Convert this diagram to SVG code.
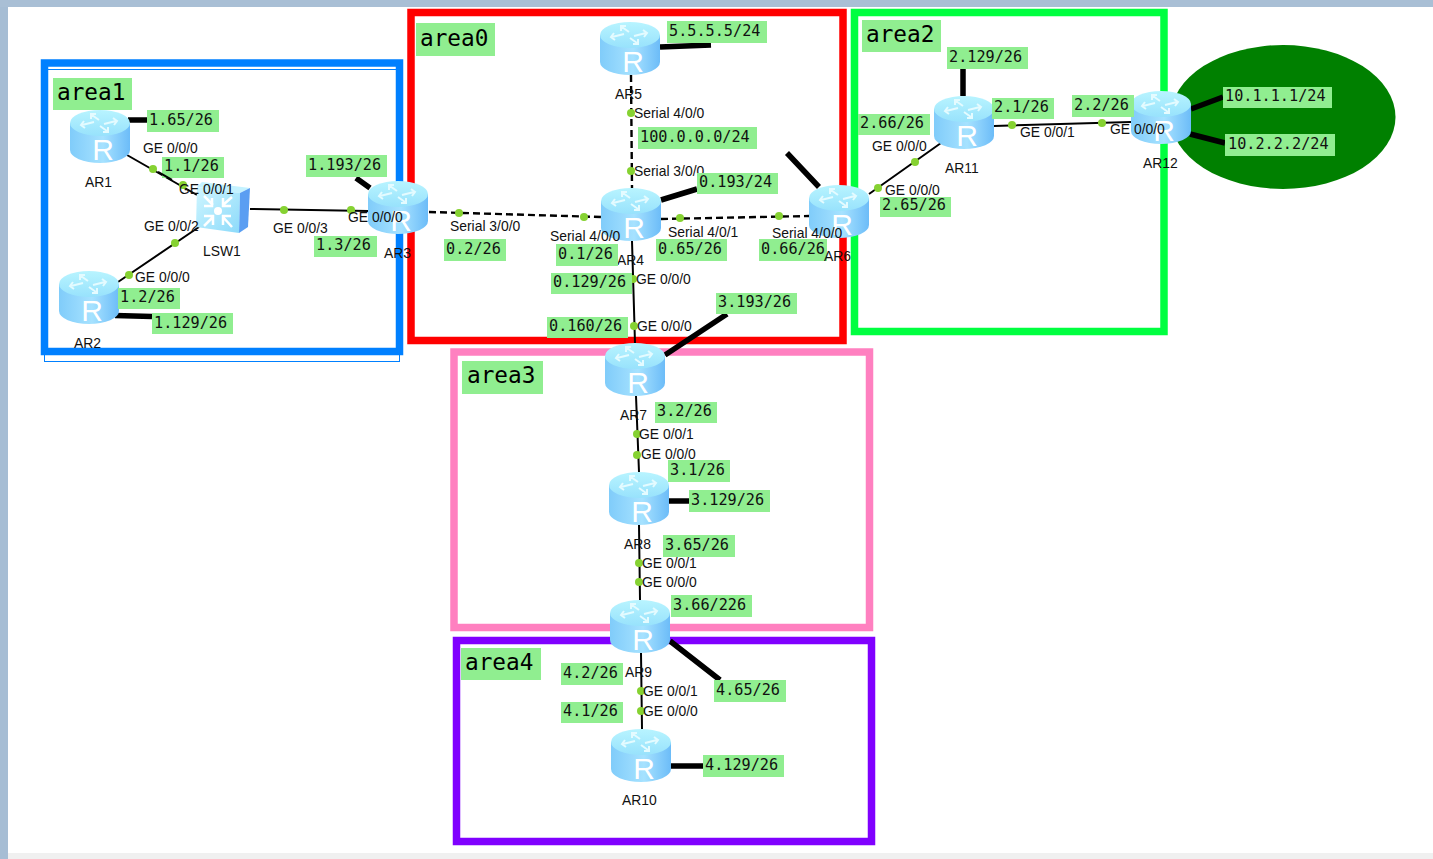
<svg xmlns="http://www.w3.org/2000/svg" xmlns:xlink="http://www.w3.org/1999/xlink" width="1433" height="859" viewBox="0 0 1433 859">
<style>
.area{fill:none;stroke-width:7.5}
.thin{stroke:#000;stroke-width:2;fill:none}
.ser{stroke:#000;stroke-width:2.4;stroke-dasharray:7 4;fill:none}
.thick{stroke:#000;stroke-width:5.5;fill:none}
.dot{fill:#86d232}
.bg{fill:#90ee90}
.ip{font:15.2px "DejaVu Sans Mono","Liberation Mono",monospace;fill:#111}
.an{font:22.7px "DejaVu Sans Mono","Liberation Mono",monospace;fill:#000}
.lb{font:13.9px "Liberation Sans",Arial,sans-serif;fill:#111}
.rl{font:30px "Liberation Sans",Arial,sans-serif;fill:#fff;text-anchor:middle}
</style>
<defs>
<linearGradient id="side" x1="0" x2="1" y1="0" y2="0"><stop offset="0" stop-color="#80ccfa"/><stop offset=".55" stop-color="#a6e2ff"/><stop offset="1" stop-color="#6cbcf8"/></linearGradient>
<linearGradient id="top" x1="0" x2="0" y1="0" y2="1"><stop offset="0" stop-color="#b8f4ff"/><stop offset="1" stop-color="#98e2fc"/></linearGradient>
<linearGradient id="face" x1="0" x2="1" y1="0" y2="1"><stop offset="0" stop-color="#d0f6ff"/><stop offset="1" stop-color="#8cdafa"/></linearGradient>
<g id="router">
<path d="M0,13V40A30,13 0 0 0 60,40V13Z" fill="url(#side)"/>
<ellipse cx="30" cy="13" rx="30" ry="13" fill="url(#top)"/>
<g fill="none" stroke="#e4fbff" stroke-width="2"><path d="M12,15L24,12M14,11L11,15L15,18M46,11L34,14M44,15L47,11L43,8M22,5L29,10M21,9L21,4L26,4M37,21L30,16M38,17L38,22L33,22"/></g>
<text class="rl" x="33" y="50">R</text>
</g>
</defs>
<rect width="1433" height="859" fill="#fff"/>
<rect x="0" y="0" width="8" height="859" fill="#a6bdd4"/>
<rect x="0" y="0" width="1433" height="7" fill="#a9bfd5"/>
<rect x="8" y="853" width="1425" height="6" fill="#f0f0f0"/>

<g id="areas">
<ellipse id="cloud" cx="1283" cy="117" rx="112.500" ry="72" fill="#008000"/>
<rect x="44.500" y="69.500" width="355" height="292" fill="none" stroke="#0080ff"/>
<rect class="area" x="44.500" y="63" width="355" height="288.500" stroke="#0080ff"/>
<rect class="area" x="411" y="12.500" width="432" height="328" stroke="#ff0000"/>
<rect class="area" x="854.500" y="12.500" width="309.500" height="319" stroke="#00ff40"/>
<rect class="area" x="454" y="352" width="415.500" height="275.500" stroke="#ff80c0"/>
<rect class="area" x="456.500" y="640.500" width="415" height="201" stroke="#8000ff"/>
</g>

<g id="connectors">
<path class="thin" d="M127,155L197,195M199,227L118,282M250,209L368,211M869,194L941,143M994,126L1131,122M632,241L635,343M636,396L639,472M639,525L640,600M641,653L642,729"/>
<path class="ser" d="M429,212L601,217M631,75L632,188M661,219L809,216"/>
<path class="thick" d="M128,120H147M356,178L370,188M115,315.500L152,316.500M660,47L711,45M661,200L697,189M787,153L819,187M963,69V96M1191,109L1223,97M1190,134L1225,143M665,355L727,314M669,501H689M670,641L720,680M671,766H703"/>
<g class="dots">
<circle class="dot" cx="153" cy="169" r="4"/><circle class="dot" cx="183" cy="185" r="4"/>
<circle class="dot" cx="175" cy="243" r="4"/><circle class="dot" cx="129" cy="275" r="4"/>
<circle class="dot" cx="284" cy="210" r="4"/><circle class="dot" cx="351" cy="210" r="4"/>
<circle class="dot" cx="459" cy="213" r="4"/><circle class="dot" cx="584" cy="217" r="4"/>
<circle class="dot" cx="631" cy="113" r="4"/><circle class="dot" cx="631" cy="171" r="4"/>
<circle class="dot" cx="680" cy="218" r="4"/><circle class="dot" cx="779" cy="216" r="4"/>
<circle class="dot" cx="878" cy="188" r="4"/><circle class="dot" cx="915" cy="162" r="4"/>
<circle class="dot" cx="1012" cy="125" r="4"/><circle class="dot" cx="1102" cy="123" r="4"/>
<circle class="dot" cx="633" cy="279" r="4"/><circle class="dot" cx="634" cy="326" r="4"/>
<circle class="dot" cx="637" cy="434" r="4"/><circle class="dot" cx="637" cy="455" r="4"/>
<circle class="dot" cx="639" cy="563" r="4"/><circle class="dot" cx="639" cy="582" r="4"/>
<circle class="dot" cx="641" cy="691" r="4"/><circle class="dot" cx="641" cy="711" r="4"/>
</g>
</g>

<g id="AR1"><use xlink:href="#router" href="#router" x="70" y="110"/><text class="lb" x="85" y="187">AR1</text><text class="lb" x="143" y="153">GE 0/0/0</text></g>
<g id="AR2"><use xlink:href="#router" href="#router" x="59" y="271"/><text class="lb" x="74" y="348">AR2</text><text class="lb" x="135" y="282">GE 0/0/0</text></g>
<g id="LSW1">
<path d="M197,187L202,182L250,188L240,193Z" fill="#c4f2ff"/>
<path d="M197,187L240,193L239,233L196,227Z" fill="url(#face)"/>
<path d="M240,193L250,188L248,227L239,233Z" fill="#5a9ef2"/>
<g fill="none" stroke="#fff" stroke-width="2.5"><path d="M204,196L213,205M212,198V206H204M232,197L223,205M223,198V206H231M204,226L213,217M204,216H213V225M232,227L223,217M231,216H223V225"/></g>
<circle cx="218" cy="211" r="4" fill="#fff"/>
<text class="lb" x="203" y="256">LSW1</text><text class="lb" x="179" y="194">GE 0/0/1</text><text class="lb" x="144" y="231">GE 0/0/2</text><text class="lb" x="273" y="233">GE 0/0/3</text></g>
<g id="AR3"><use xlink:href="#router" href="#router" x="368" y="181"/><text class="lb" x="384" y="258">AR3</text><text class="lb" x="348" y="222">GE 0/0/0</text><text class="lb" x="450" y="231">Serial 3/0/0</text></g>
<g id="AR4"><use xlink:href="#router" href="#router" x="601" y="188"/><text class="lb" x="617" y="265">AR4</text><text class="lb" x="550" y="241">Serial 4/0/0</text><text class="lb" x="668" y="237">Serial 4/0/1</text><text class="lb" x="634" y="176">Serial 3/0/0</text><text class="lb" x="636" y="284">GE 0/0/0</text></g>
<g id="AR5"><use xlink:href="#router" href="#router" x="600" y="22"/><text class="lb" x="615" y="99">AR5</text><text class="lb" x="634" y="118">Serial 4/0/0</text></g>
<g id="AR6"><use xlink:href="#router" href="#router" x="809" y="185"/><text class="lb" x="772" y="238">Serial 4/0/0</text></g>
<g id="AR7"><use xlink:href="#router" href="#router" x="605" y="343"/><text class="lb" x="620" y="420">AR7</text><text class="lb" x="637" y="331">GE 0/0/0</text><text class="lb" x="639" y="439">GE 0/0/1</text></g>
<g id="AR8"><use xlink:href="#router" href="#router" x="609" y="472"/><text class="lb" x="624" y="549">AR8</text><text class="lb" x="641" y="459">GE 0/0/0</text><text class="lb" x="642" y="568">GE 0/0/1</text></g>
<g id="AR9"><use xlink:href="#router" href="#router" x="610" y="600"/><text class="lb" x="625" y="677">AR9</text><text class="lb" x="642" y="587">GE 0/0/0</text><text class="lb" x="643" y="696">GE 0/0/1</text></g>
<g id="AR10"><use xlink:href="#router" href="#router" x="611" y="729"/><text class="lb" x="622" y="805">AR10</text><text class="lb" x="643" y="716">GE 0/0/0</text></g>
<g id="AR11"><use xlink:href="#router" href="#router" x="934" y="96"/><text class="lb" x="945" y="173">AR11</text><text class="lb" x="872" y="151">GE 0/0/0</text><text class="lb" x="1020" y="137">GE 0/0/1</text></g>
<g id="AR12"><use xlink:href="#router" href="#router" x="1131" y="91"/><text class="lb" x="1143" y="168">AR12</text><text class="lb" x="1110" y="134">GE 0/0/0</text></g>

<g id="labels">
<rect class="bg" x="53" y="78" width="79" height="32"/><text class="an" x="57" y="100">area1</text>
<rect class="bg" x="416" y="23" width="79" height="33"/><text class="an" x="420" y="46">area0</text>
<rect class="bg" x="862" y="20" width="79" height="32"/><text class="an" x="866" y="42">area2</text>
<rect class="bg" x="462" y="361" width="81" height="33"/><text class="an" x="467" y="383">area3</text>
<rect class="bg" x="461" y="648" width="80" height="32"/><text class="an" x="465" y="670">area4</text>
<rect class="bg" x="147" y="110" width="72" height="22"/><text class="ip" x="149" y="125">1.65/26</text>
<rect class="bg" x="162" y="157" width="62" height="21"/><text class="ip" x="164" y="171">1.1/26</text>
<rect class="bg" x="306" y="155" width="81" height="22"/><text class="ip" x="308" y="170">1.193/26</text>
<rect class="bg" x="314" y="236" width="63" height="21"/><text class="ip" x="316" y="250">1.3/26</text>
<rect class="bg" x="118" y="288" width="62" height="21"/><text class="ip" x="120" y="302">1.2/26</text>
<rect class="bg" x="152" y="313" width="81" height="21"/><text class="ip" x="154" y="328">1.129/26</text>
<rect class="bg" x="667" y="21" width="100" height="22"/><text class="ip" x="669" y="36">5.5.5.5/24</text>
<rect class="bg" x="638" y="127" width="119" height="22"/><text class="ip" x="640" y="142">100.0.0.0/24</text>
<rect class="bg" x="697" y="173" width="81" height="21"/><text class="ip" x="699" y="187">0.193/24</text>
<rect class="bg" x="556" y="244" width="62" height="22"/><text class="ip" x="558" y="259">0.1/26</text>
<rect class="bg" x="656" y="239" width="71" height="22"/><text class="ip" x="658" y="254">0.65/26</text>
<rect class="bg" x="759" y="239" width="68" height="22"/><text class="ip" x="761" y="254">0.66/26</text>
<rect class="bg" x="444" y="239" width="62" height="22"/><text class="ip" x="446" y="254">0.2/26</text>
<rect class="bg" x="551" y="273" width="81" height="21"/><text class="ip" x="553" y="287">0.129/26</text>
<rect class="bg" x="547" y="317" width="81" height="21"/><text class="ip" x="549" y="331">0.160/26</text>
<rect class="bg" x="716" y="293" width="81" height="21"/><text class="ip" x="718" y="307">3.193/26</text>
<rect class="bg" x="655" y="402" width="62" height="21"/><text class="ip" x="657" y="416">3.2/26</text>
<rect class="bg" x="668" y="460" width="62" height="22"/><text class="ip" x="670" y="475">3.1/26</text>
<rect class="bg" x="689" y="490" width="81" height="22"/><text class="ip" x="691" y="505">3.129/26</text>
<rect class="bg" x="663" y="535" width="72" height="22"/><text class="ip" x="665" y="550">3.65/26</text>
<rect class="bg" x="671" y="595" width="81" height="22"/><text class="ip" x="673" y="610">3.66/226</text>
<rect class="bg" x="561" y="663" width="62" height="22"/><text class="ip" x="563" y="678">4.2/26</text>
<rect class="bg" x="561" y="702" width="62" height="21"/><text class="ip" x="563" y="716">4.1/26</text>
<rect class="bg" x="714" y="680" width="72" height="22"/><text class="ip" x="716" y="695">4.65/26</text>
<rect class="bg" x="703" y="755" width="81" height="22"/><text class="ip" x="705" y="770">4.129/26</text>
<rect class="bg" x="947" y="47" width="81" height="22"/><text class="ip" x="949" y="62">2.129/26</text>
<rect class="bg" x="858" y="114" width="72" height="21"/><text class="ip" x="860" y="128">2.66/26</text>
<rect class="bg" x="992" y="98" width="62" height="21"/><text class="ip" x="994" y="112">2.1/26</text>
<rect class="bg" x="1072" y="95" width="62" height="22"/><text class="ip" x="1074" y="110">2.2/26</text>
<rect class="bg" x="880" y="197" width="71" height="20"/><text class="ip" x="882" y="210">2.65/26</text>
<rect class="bg" x="1223" y="87" width="109" height="21"/><text class="ip" x="1225" y="101">10.1.1.1/24</text>
<rect class="bg" x="1225" y="134" width="110" height="22"/><text class="ip" x="1228" y="149">10.2.2.2/24</text>
<text class="lb" x="824" y="261">AR6</text>
<text class="lb" x="885" y="195">GE 0/0/0</text>
</g>
<g id="connectors-over"><path class="thin" d="M158,171.900L172,179.900"/></g>
</svg>
